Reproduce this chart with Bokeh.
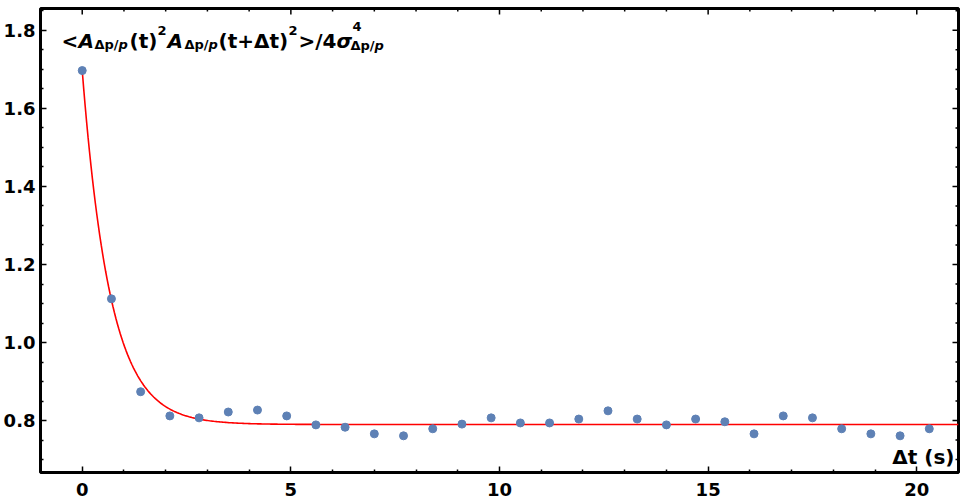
import numpy as np
from bokeh.plotting import figure
from bokeh.models import Range1d, FixedTicker, LinearAxis, PrintfTickFormatter
from bokeh.core.properties import value
from bokeh.embed import file_html
from bokeh.resources import INLINE

# ---- data ----
dt = [0.0, 0.7, 1.4, 2.1, 2.8, 3.5, 4.2, 4.9, 5.6, 6.3, 7.0, 7.7, 8.4, 9.1, 9.8,
      10.5, 11.2, 11.9, 12.6, 13.3, 14.0, 14.7, 15.4, 16.1, 16.8, 17.5, 18.2, 18.9, 19.6, 20.3]
ratio = [1.697, 1.112, 0.874, 0.812, 0.807, 0.822, 0.827, 0.812, 0.789, 0.783, 0.766, 0.761,
         0.779, 0.791, 0.807, 0.794, 0.794, 0.804, 0.825, 0.804, 0.789, 0.804, 0.797, 0.766,
         0.812, 0.807, 0.779, 0.766, 0.761, 0.779]

# exponential fit parameters (red curve)
fit_offset = 0.790
fit_amp = 0.907
fit_tau = 0.67

x_major = [0, 5, 10, 15, 20]
x_minor = [-1, 1, 2, 3, 4, 6, 7, 8, 9, 11, 12, 13, 14, 16, 17, 18, 19, 21]
y_major = [0.8, 1.0, 1.2, 1.4, 1.6, 1.8]
y_minor = [0.7, 0.75, 0.85, 0.9, 0.95, 1.05, 1.1, 1.15, 1.25, 1.3, 1.35, 1.45, 1.5,
           1.55, 1.65, 1.7, 1.75, 1.85]

x_lo, x_hi = -1.0, 21.0
y_lo, y_hi = 0.667, 1.856

FONT_NAME = "DejaVu Sans"
FONT = value(FONT_NAME)

p = figure(width=960, height=500, x_range=Range1d(x_lo, x_hi), y_range=Range1d(y_lo, y_hi),
           output_backend="svg", toolbar_location=None,
           x_axis_location=None, y_axis_location=None,
           min_border_left=38, min_border_right=2, min_border_top=8, min_border_bottom=28)
p.xgrid.visible = False
p.ygrid.visible = False
p.background_fill_color = "white"
p.border_fill_color = "white"
p.outline_line_color = "black"
p.outline_line_width = 3


def style_axis(ax):
    ax.axis_line_color = None
    ax.major_tick_in = 6
    ax.major_tick_out = 0
    ax.minor_tick_in = 3
    ax.minor_tick_out = 0
    ax.major_tick_line_width = 1.5
    ax.minor_tick_line_width = 1.5
    ax.major_tick_line_color = "black"
    ax.minor_tick_line_color = "black"
    ax.major_label_text_font = FONT_NAME
    ax.major_label_text_font_style = "bold"
    ax.major_label_text_font_size = "18px"
    ax.major_label_text_color = "black"


bottom = LinearAxis(ticker=FixedTicker(ticks=x_major, minor_ticks=x_minor),
                    formatter=PrintfTickFormatter(format="%d"))
style_axis(bottom)
bottom.major_label_standoff = 10
p.add_layout(bottom, "below")

left = LinearAxis(ticker=FixedTicker(ticks=y_major, minor_ticks=y_minor),
                  formatter=PrintfTickFormatter(format="%.1f"))
style_axis(left)
left.major_label_standoff = 5
p.add_layout(left, "left")

# inward ticks on the top and right frame edges
p.ray(x=x_major, y=[y_hi] * len(x_major), length=6, angle=-np.pi / 2,
      length_units="screen", line_color="black", line_width=1.5)
p.ray(x=x_minor, y=[y_hi] * len(x_minor), length=3, angle=-np.pi / 2,
      length_units="screen", line_color="black", line_width=1.5)
p.ray(x=[x_hi] * len(y_major), y=y_major, length=6, angle=np.pi,
      length_units="screen", line_color="black", line_width=1.5)
p.ray(x=[x_hi] * len(y_minor), y=y_minor, length=3, angle=np.pi,
      length_units="screen", line_color="black", line_width=1.5)

# fit curve
t_fit = np.linspace(0.0, x_hi, 600)
y_fit = fit_offset + fit_amp * np.exp(-t_fit / fit_tau)
p.line(t_fit, y_fit, line_color="red", line_width=1.6)

# data points
p.scatter(dt, ratio, size=8, fill_color="#5E81B5", line_color="#5E81B5")

# ---- title label built from pieces (anchored at frame top-left) ----
# (text, x px from frame left, baseline px from frame top, size, style)
pieces = [
    ("<", 21, 32, "20px", "bold"),
    ("A", 38, 32, "20px", "bold italic"),
    ("Δp/", 54, 36, "13px", "bold"),
    ("p", 78, 36, "13px", "bold italic"),
    ("(t)", 89, 32, "20px", "bold"),
    ("2", 117, 22, "13px", "bold"),
    ("A", 127, 32, "20px", "bold italic"),
    ("Δp/", 144, 36, "13px", "bold"),
    ("p", 168, 36, "13px", "bold italic"),
    ("(t+Δt)", 178, 32, "20px", "bold"),
    ("2", 248, 22, "13px", "bold"),
    (">/4", 258, 32, "20px", "bold"),
    ("σ", 296, 32, "20px", "bold italic"),
    ("4", 312, 18, "13px", "bold"),
    ("Δp/", 310, 37, "13px", "bold"),
    ("p", 334, 37, "13px", "bold italic"),
]
for txt, ox, oy, fs, st in pieces:
    p.text(x=[x_lo], y=[y_hi], text=[txt], x_offset=ox, y_offset=oy,
           text_font=FONT, text_font_size=fs, text_font_style=st,
           text_color="black", text_baseline="alphabetic", text_align="left")

p.text(x=[x_hi], y=[y_lo], text=["Δt (s)"], x_offset=-4, y_offset=-16,
       text_font=FONT, text_font_size="20px", text_font_style="bold",
       text_color="black", text_baseline="alphabetic", text_align="right")

open("out.html", "w").write(file_html(p, INLINE))
